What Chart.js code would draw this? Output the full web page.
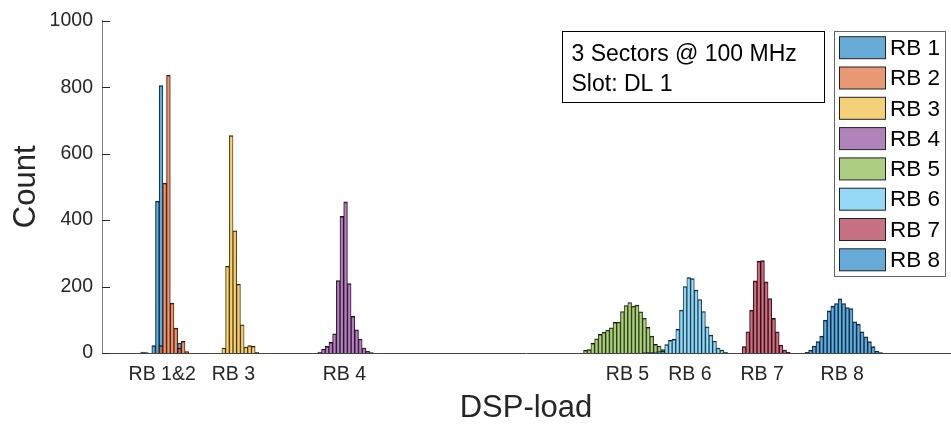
<!DOCTYPE html>
<html>
<head>
<meta charset="utf-8">
<title>DSP-load histogram</title>
<script src="https://cdn.jsdelivr.net/npm/chart.js@4.4.1/dist/chart.umd.min.js"></script>
<style>
  html, body { margin: 0; padding: 0; background: #fff; }
  canvas { display: block; }
</style>
</head>
<body>
<canvas id="chart" width="951" height="428"></canvas>
<script>
// Count per DSP-load bin for every resource block (RB).
// Each list starts at the bin given in firstBin.
const seriesNames = ['RB 1', 'RB 2', 'RB 3', 'RB 4', 'RB 5', 'RB 6', 'RB 7', 'RB 8'];
const firstBin = [10, 15, 32, 58, 130, 146, 173, 190];
const rb1 = [3, 1, 0, 22, 457, 805, 0, 0, 0, 0, 30];
const rb2 = [22, 511, 836, 150, 75, 15, 35, 4];
const rb3 = [15, 261, 654, 368, 207, 85, 18, 22, 20, 2];
const rb4 = [3, 12, 20, 32, 58, 218, 411, 455, 209, 110, 70, 42, 15, 6, 1];
const rb5 = [8, 10, 29, 43, 56, 63, 69, 76, 92, 93, 125, 143, 152, 141, 144, 124, 105, 77, 51, 26, 21, 10];
const rb6 = [1, 2, 2, 3, 4, 5, 25, 38, 41, 71, 129, 200, 227, 224, 189, 161, 125, 79, 54, 36, 15, 9, 2];
const rb7 = [19, 64, 129, 217, 276, 278, 214, 164, 104, 64, 24, 9, 2];
const rb8 = [2, 9, 21, 34, 51, 99, 127, 141, 149, 163, 149, 137, 134, 94, 87, 64, 49, 34, 19, 6, 1];

// x tick labels sit at the centre of each group
const tickBins = [15.3, 34.6, 64.7, 141.4, 158.3, 177.9, 199.6];
const tickNames = ['RB 1&2', 'RB 3', 'RB 4', 'RB 5', 'RB 6', 'RB 7', 'RB 8'];

const infoLines = ['3 Sectors @ 100 MHz', 'Slot: DL 1'];

// MATLAB default colour order, drawn with face alpha 0.6
const baseColors = [[0, 114, 189], [217, 83, 25], [237, 177, 32], [126, 47, 142],
                    [119, 172, 48], [77, 190, 238], [162, 20, 47], [0, 114, 189]];
const rgba = (c, a) => `rgba(${c[0]},${c[1]},${c[2]},${a})`;

const allCounts = [rb1, rb2, rb3, rb4, rb5, rb6, rb7, rb8];
const FONT = '"Liberation Sans", Arial, Helvetica, sans-serif';
const TEXT = '#262626';

const datasets = allCounts.map((counts, i) => ({
  label: seriesNames[i],
  data: counts.map((c, j) => ({ x: firstBin[i] + j, y: c })),
  backgroundColor: rgba(baseColors[i], 0.6),
  borderColor: 'rgba(0,0,0,0.9)',
  borderWidth: { left: 0.5, right: 0.5, top: 1, bottom: 0 },
  grouped: false,
  barPercentage: 1,
  categoryPercentage: 1,
  order: 8 - i
}));

// inward y ticks, the info box and the legend frame
const decorations = {
  id: 'decorations',
  afterDraw(chart) {
    const { ctx, chartArea, scales: { y } } = chart;
    ctx.save();

    ctx.strokeStyle = TEXT;
    ctx.lineWidth = 1;
    y.ticks.forEach(t => {
      const py = Math.round(y.getPixelForValue(t.value)) + 0.5;
      ctx.beginPath();
      ctx.moveTo(chartArea.left, py);
      ctx.lineTo(chartArea.left + 8, py);
      ctx.stroke();
    });

    // info box
    ctx.fillStyle = '#fff';
    ctx.fillRect(562.5, 31.5, 262, 71);
    ctx.strokeStyle = '#000';
    ctx.strokeRect(562.5, 31.5, 262, 71);
    ctx.fillStyle = '#000';
    ctx.font = `23px ${FONT}`;
    ctx.textBaseline = 'alphabetic';
    ctx.textAlign = 'left';
    infoLines.forEach((line, i) => ctx.fillText(line, 571.5, 60.7 + i * 30));

    // legend
    ctx.fillStyle = '#fff';
    ctx.fillRect(834.5, 31.5, 111, 245);
    ctx.strokeStyle = '#666';
    ctx.strokeRect(834.5, 31.5, 111, 245);
    ctx.font = `22.5px ${FONT}`;
    ctx.textBaseline = 'middle';
    chart.data.datasets.forEach((ds, i) => {
      const top = 36.7 + i * 30.3;
      ctx.fillStyle = ds.backgroundColor;
      ctx.fillRect(839.5, top, 46, 22);
      ctx.strokeStyle = '#222';
      ctx.strokeRect(839.5, top, 46, 22);
      ctx.fillStyle = '#000';
      ctx.fillText(ds.label, 890, top + 12);
    });

    ctx.restore();
  }
};

const ctx = document.getElementById('chart').getContext('2d');
new Chart(ctx, {
  type: 'bar',
  data: { datasets },
  options: {
    responsive: false,
    animation: false,
    layout: { padding: { top: 19, right: 1, bottom: 0, left: 0 } },
    plugins: { legend: { display: false }, tooltip: { enabled: false } },
    scales: {
      x: {
        type: 'linear',
        offset: false,
        min: -1,
        max: 228.8,
        afterBuildTicks: scale => { scale.ticks = tickBins.map(v => ({ value: v })); },
        afterFit: scale => { scale.height = 75; },
        ticks: {
          autoSkip: false,
          maxRotation: 0,
          padding: 10,
          color: TEXT,
          font: { family: FONT, size: 19.5 },
          callback: v => tickNames[tickBins.indexOf(v)]
        },
        grid: { display: false, drawTicks: false },
        border: { color: '#444', width: 1 },
        title: {
          display: true,
          text: 'DSP-load',
          color: TEXT,
          font: { family: FONT, size: 31 },
          padding: { top: 0, bottom: 1 }
        }
      },
      y: {
        min: 0,
        max: 1000,
        afterFit: scale => { scale.width = 102; },
        ticks: {
          stepSize: 200,
          padding: 9,
          color: TEXT,
          font: { family: FONT, size: 19.5 },
          callback: v => String(v)
        },
        grid: { display: false, drawTicks: false },
        border: { color: '#808080', width: 1 },
        title: {
          display: true,
          text: 'Count',
          color: TEXT,
          font: { family: FONT, size: 31 },
          padding: { top: 8, bottom: 0 }
        }
      }
    }
  },
  plugins: [decorations]
});
</script>
</body>
</html>
